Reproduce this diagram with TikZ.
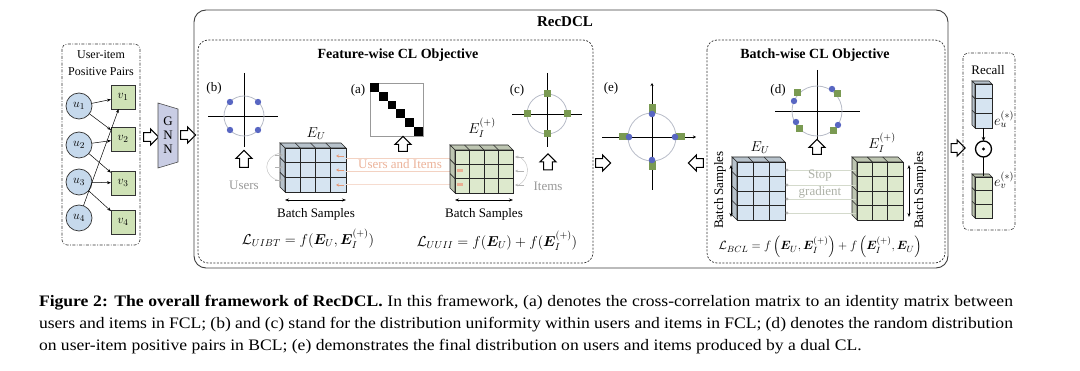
\documentclass[tikz,border=0pt]{standalone}
\usepackage{amsmath,bm}
\usepackage{fontspec}
\setmainfont{Liberation Serif}
\newfontfamily\capfont[FakeStretch=1.1]{Liberation Serif}
\usetikzlibrary{shapes.arrows,shapes.geometric,arrows.meta,calc}
\definecolor{ublue}{HTML}{D6E4F1}
\definecolor{igreen}{HTML}{DDE9CD}
\definecolor{ucirc}{HTML}{C6D9EC}
\definecolor{vsq}{HTML}{CFE2B6}
\definecolor{dotblue}{HTML}{5866C2}
\definecolor{sqgreen}{HTML}{7A9A52}
\definecolor{gnncol}{HTML}{C9CDE4}
\definecolor{salm}{HTML}{E59A78}
\definecolor{circg}{HTML}{B8BCC8}
\newcommand{\gridcube}[8]{%
  \pgfmathtruncatemacro\gcc{#5-1}%
  \pgfmathtruncatemacro\gcr{#6-1}%
  \filldraw[fill=#7!82!black!90, draw=black!85, line width=0.6pt]
    (#1,#2) -- ++(-#8,-#8) -- ++(#3,0) -- ++(#8,#8) -- cycle;
  \filldraw[fill=#7!82!black!90, draw=black!85, line width=0.6pt]
    (#1,#2) -- ++(-#8,-#8) -- ++(0,#4) -- ++(#8,#8) -- cycle;
  \filldraw[fill=#7, draw=black!85, line width=0.6pt] (#1,#2) rectangle ++(#3,#4);
  \ifnum\gcc>0
  \foreach \gi in {1,...,\gcc}{%
    \draw[black!85, line width=0.6pt] ({#1+\gi*#3/#5},#2) -- ++(0,#4);
    \draw[black!85, line width=0.6pt] ({#1+\gi*#3/#5},#2) -- ++(-#8,-#8);}
  \fi
  \foreach \gj in {1,...,\gcr}{%
    \draw[black!85, line width=0.6pt] (#1,{#2+\gj*#4/#6}) -- ++(#3,0);
    \draw[black!85, line width=0.6pt] (#1,{#2+\gj*#4/#6}) -- ++(-#8,-#8);}
}
\begin{document}
\begin{tikzpicture}[x=1pt,y=-1pt,
  every node/.style={inner sep=0pt, outer sep=0pt},
  f12/.style={font=\fontsize{12}{14}\selectfont},
  f13/.style={font=\fontsize{13}{15}\selectfont},
  f14/.style={font=\fontsize{14}{16}\selectfont},
  btitle/.style={font=\fontsize{14}{16}\selectfont\bfseries},
  capt/.style={anchor=west, font=\capfont\fontsize{16}{18}\selectfont},
  unode/.style={circle, draw=black!80, fill=ucirc, line width=0.7pt, minimum size=26pt, font=\fontsize{13}{15}\selectfont},
  vnode/.style={rectangle, draw=black!80, fill=vsq, line width=0.7pt, minimum size=24pt, font=\fontsize{13}{15}\selectfont},
  hol/.style={single arrow, draw=black, fill=white, line width=1pt, inner sep=3.8pt, minimum height=#1, single arrow head extend=3.8pt, single arrow tip angle=90},
  hol/.default=16pt,
  pairarrow/.style={-{Stealth[length=4pt,width=3pt]}, line width=0.5pt, black},
  axis/.style={line width=0.7pt, black},
  distc/.style={circg, line width=0.8pt},
  dashbox/.style={black!80, line width=0.7pt, dash pattern=on 2pt off 1.5pt, rounded corners=10pt},
  dashdotbox/.style={black!80, line width=0.6pt, dash pattern=on 3pt off 1.5pt on 0.8pt off 1.5pt, rounded corners=5pt},
  bsarrow/.style={{Stealth[length=4pt,width=3pt]}-{Stealth[length=4pt,width=3pt]}, line width=0.6pt},
  grayarr/.style={-{Stealth[length=3pt,width=2.5pt]}, gray!60, line width=0.5pt},
]
\useasboundingbox (0,0) rectangle (1080,371);
\fill[white] (0,0) rectangle (1080,371);

% ---------------- left panel
\draw[dashdotbox] (62,44) rectangle (140,245);
\node[f12] (uit) at (101,55) {User-item};
\node[f12] (pp) at (101,72) {Positive Pairs};
\node[unode] (u1) at (79,106) {$u_1$};
\node[unode] (u2) at (79,145) {$u_2$};
\node[unode] (u3) at (79,182) {$u_3$};
\node[unode] (u4) at (79,218) {$u_4$};
\node[vnode] (v1) at (123,97) {$v_1$};
\node[vnode] (v2) at (123,139) {$v_2$};
\node[vnode] (v3) at (123,183) {$v_3$};
\node[vnode] (v4) at (123,222) {$v_4$};
\draw[pairarrow] (u1) -- (v1);
\draw[pairarrow] (u1) -- (v2);
\draw[pairarrow] (u2) -- (v2);
\draw[pairarrow] (u2) -- (v3);
\draw[pairarrow] (u3) -- (v3);
\draw[pairarrow] (u3) -- (v4);
\draw[pairarrow] (u4) -- (v1);

\node[hol=15pt] (a1) at (149,137) {};
\filldraw[fill=gnncol, draw=black!70, line width=0.6pt] (158,103) -- (178,109) -- (178,162) -- (158,168) -- cycle;
\node[f13, align=center] (gnn) at (168,135) {G\\[-1pt]N\\[-1pt]N};
\node[hol=15pt] (a2) at (186,135) {};

% ---------------- RecDCL
\draw[black!75, line width=0.9pt, rounded corners=12pt] (194,10) rectangle (948,268);
\node[font=\fontsize{15}{17}\selectfont\bfseries] (rec) at (565,22) {RecDCL};

% ---------------- Feature-wise
\draw[dashbox] (198,40) rectangle (593,263);
\node[btitle] (ft) at (398,55) {Feature-wise CL Objective};

% (b)
\node[f13] (lb) at (214,88) {(b)};
\draw[axis] (208,116) -- (278,116);
\draw[axis] (244,73) -- (244,147);
\draw[distc] (244,116) circle (20pt);
\foreach \px/\py in {230/102,258/102,230/130,258/130}{\fill[dotblue] (\px,\py) circle (3.2pt);}
\node[hol=17pt, rotate=90] (ab) at (244,161) {};
\node[f13, text=gray!80] (users) at (244,185) {Users};

% E_U cube
\gridcube{285}{148}{61}{44}{4}{3}{ublue}{5}
\node[f14] (eu1) at (316,134) {$E_U$};
\draw[gray!45, line width=0.5pt] (281,153) .. controls (262,156) and (262,178) .. (281,181);
\foreach \yy in {155,167,180}{\draw[grayarr] (275,\yy) -- (283,\yy);}
\foreach \yy in {156,170,185}{\draw[-{Stealth[length=3pt,width=3pt]}, salm, line width=0.6pt] (344,\yy) -- (336,\yy);}
\draw[bsarrow] (285,200) -- (346,200);
\node[f13] (bs1) at (316,214) {Batch Samples};

% (a)
\node[f13] (la) at (358,90) {(a)};
\draw[black!40, line width=0.5pt] (370,83) rectangle (423,136);
\foreach \k in {0,...,5}{\fill[black] ({370+\k*8.83},{83+\k*8.83}) rectangle ++(8.83,8.83);}
\node[hol=15pt, rotate=90] (aa) at (403,146) {};

% users and items band
\draw[salm!45, line width=0.6pt] (346,158) -- (455,158);
\draw[salm!45, line width=0.6pt] (346,171) -- (455,171);
\draw[salm!35, line width=0.6pt] (346,184) -- (455,184);
\node[f13, text=salm!75] (uai) at (400,164) {Users and Items};

% E_I cube
\gridcube{455}{150}{58}{43}{4}{3}{igreen}{5}
\node[f14] (ei1) at (482,128) {$E_I^{(+)}$};
\foreach \yy in {171,185}{\fill[salm!80] (457,{\yy-2}) rectangle ++(6,3);}
\draw[gray!45, line width=0.5pt] (517,156) .. controls (530,160) and (532,178) .. (517,186);
\foreach \yy in {157,171,185}{\draw[grayarr] (524,\yy) -- (515,\yy);}
\draw[bsarrow] (455,200) -- (513,200);
\node[f13] (bs2) at (484,214) {Batch Samples};

% (c)
\node[f13] (lc) at (517,90) {(c)};
\draw[axis] (512,114) -- (582,114);
\draw[axis] (547,73) -- (547,147);
\draw[distc] (547,114) circle (20pt);
\foreach \px/\py in {547/94,567/114,547/134,527/114}{\fill[sqgreen] ({\px-3.5},{\py-3.5}) rectangle ++(7,7);}
\node[hol=16pt, rotate=90] (ac) at (548,164) {};
\node[f13, text=gray!80] (items) at (548,186) {Items};

\node[f14] (luibt) at (308,239) {$\mathcal{L}_{UIBT}=f(\bm{E}_U,\bm{E}_I^{(+)})$};
\node[f14] (luuii) at (497,241) {$\mathcal{L}_{UUII}=f(\bm{E}_U)+f(\bm{E}_I^{(+)})$};

% ---------------- (e)
\node[f13] (le) at (611,88) {(e)};
\draw[axis, -{Stealth[length=3pt,width=3pt]}] (602,137) -- (696,137);
\draw[axis, -{Stealth[length=3pt,width=3pt]}] (652,190) -- (652,83);
\draw[distc] (652,137) circle (24pt);
\fill[sqgreen] (648.5,104) rectangle ++(7,9);
\fill[sqgreen] (676,133.5) rectangle ++(9,7);
\fill[sqgreen] (648.5,161) rectangle ++(7,9);
\fill[sqgreen] (619,133.5) rectangle ++(9,7);
\foreach \px/\py in {652/114,675/137,652/160,629/137}{\fill[dotblue] (\px,\py) circle (3.3pt);}
\node[hol=15pt] (ae1) at (601,163) {};
\node[hol=15pt, rotate=180] (ae2) at (698,163) {};

% ---------------- Batch-wise
\draw[dashbox] (707,40) rectangle (945,263);
\node[btitle] (bt) at (815,55) {Batch-wise CL Objective};
\node[f13] (ld) at (778,90) {(d)};
\draw[axis] (775,111) -- (860,111);
\draw[axis] (817,70) -- (817,140);
\draw[distc] (817,111) circle (25pt);
\foreach \px/\py in {797/93,837/94,799/129,833/131}{\fill[sqgreen] ({\px-3.5},{\py-3.5}) rectangle ++(7,7);}
\foreach \px/\py in {794/101,832/89,796/122,838/125}{\fill[dotblue] (\px,\py) circle (3.2pt);}
\node[hol=15pt, rotate=90] (ad) at (817,149) {};

\gridcube{737}{162}{48}{58}{3}{4}{ublue}{5}
\node[f14] (eu2) at (760,148) {$E_U$};
\draw[bsarrow] (731,165) -- (731,217);
\node[f13, rotate=90] (bs3) at (720,190) {Batch Samples};

\gridcube{857}{162}{46}{58}{3}{4}{igreen}{5}
\node[f14] (ei2) at (882,143) {$E_I^{(+)}$};
\draw[bsarrow] (909,165) -- (909,217);
\node[f13, rotate=90] (bs4) at (920,190) {Batch Samples};

\foreach \yy in {170,185,199,213}{
  \draw[igreen!70!gray!70, line width=0.6pt] (786,\yy) -- (856,\yy);
  \fill[gray!60] (787,\yy) circle (1.6pt);}
\node[f13, text=igreen!40!gray!90] (stop) at (820,176) {Stop};
\node[f13, text=igreen!40!gray!90] (grad) at (820,192) {gradient};
\node[font=\fontsize{13}{15}\selectfont] (lbcl) at (820,247) {$\mathcal{L}_{BCL}=f\left(\bm{E}_U,\bm{E}_I^{(+)}\right)+f\left(\bm{E}_I^{(+)},\bm{E}_U\right)$};

% ---------------- Recall
\node[hol=14pt] (ar) at (956,148) {};
\draw[dashdotbox] (963,53) rectangle (1015,230);
\node[f13] (recall) at (988,70) {Recall};
\gridcube{975}{84}{17}{44}{1}{3}{ublue}{3}
\gridcube{975}{177}{17}{41}{1}{3}{igreen}{3}
\coordinate (ustk) at (983.5,128);
\coordinate (vstk) at (983.5,176);
\node[circle, draw=black, line width=1.3pt, minimum size=16pt] (odot) at (983.5,149) {};
\fill[black] (odot.center) circle (1.6pt);
\draw[-{Stealth[length=4pt,width=3.5pt]}, line width=0.6pt] (ustk) -- (odot);
\draw[line width=0.6pt] (odot) -- (vstk);
\node[f14] (eu3) at (1004,119) {$e_u^{(*)}$};
\node[f14] (ev3) at (1004,180) {$e_v^{(*)}$};

% ---------------- caption
\node[capt] (cap1) at (39,303) {\makebox[974pt][s]{\textbf{Figure 2: The overall framework of RecDCL.} In this framework, (a) denotes the cross-correlation matrix to an identity matrix between}};
\node[capt] (cap2) at (39,325) {\makebox[974pt][s]{users and items in FCL; (b) and (c) stand for the distribution uniformity within users and items in FCL; (d) denotes the random distribution}};
\node[capt] (cap3) at (39,347) {on user-item positive pairs in BCL; (e) demonstrates the final distribution on users and items produced by a dual CL.};
\end{tikzpicture}
\end{document}
